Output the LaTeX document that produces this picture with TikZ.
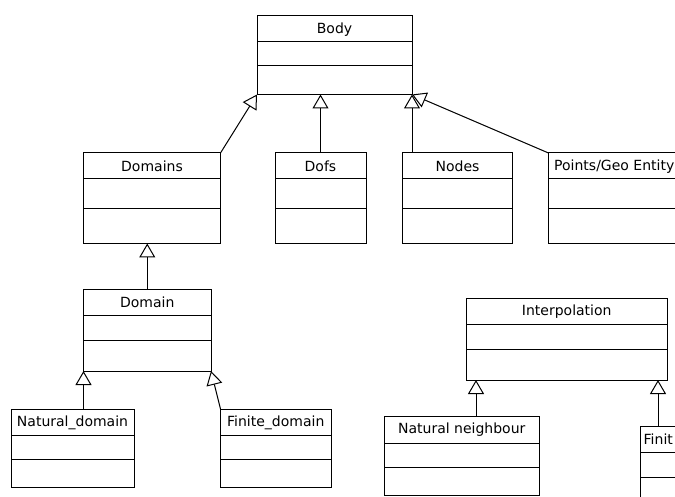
\documentclass[tikz,border=0pt]{standalone}
\usepackage{fontspec}
\setmainfont{DejaVu Sans}
\usetikzlibrary{arrows.meta,calc}
\tikzset{
  cls/.style={draw=black, line width=1pt, anchor=north west, inner sep=0pt, outer sep=0pt, fill=white},
  sep/.style={draw=black, line width=1pt},
  title/.style={inner sep=0pt, font=\fontsize{14}{16}\selectfont, text=black},
  inh/.style={draw=black, line width=1pt, -{Triangle[open, length=14pt, width=16pt, fill=white]}},
}
\newcommand\umlbox[8]{%
  \pgfmathsetmacro\bw{#4-#2}%
  \pgfmathsetmacro\bh{#5-#3}%
  \pgfmathsetmacro\tx{(#2+#4)/2}%
  \pgfmathsetmacro\ty{(#3+#6)/2+0.5}%
  \node[cls, minimum width=\bw pt, minimum height=\bh pt] (#1) at (#2,#3) {};
  \draw[sep] (#2,#6) -- (#4,#6);
  \draw[sep] (#2,#7) -- (#4,#7);
  \node[title] (#1-t) at (\tx,\ty) {#8};
}
\begin{document}
\begin{tikzpicture}[x=1pt,y=-1pt]
\useasboundingbox (0,0) rectangle (675,497);
\clip (0,0) rectangle (675,497);
\umlbox{body}{257}{15.5}{412}{94.5}{42}{66}{Body}
\umlbox{domains}{83.5}{153}{220.5}{243.5}{178.5}{208.5}{Domains}
\umlbox{dofs}{275}{153}{366}{243.5}{178.5}{208.5}{Dofs}
\umlbox{nodes}{402.5}{153}{512.5}{243.5}{178.5}{208.5}{Nodes}
\umlbox{points}{548.5}{153}{680}{243.5}{178.5}{208.5}{Points/Geo Entity}
\umlbox{domain}{83.5}{289.5}{211}{371}{315}{340}{Domain}
\umlbox{natdom}{11}{409}{134}{487.5}{435}{459}{Natural\_domain}
\umlbox{findom}{220.5}{409}{331}{487.5}{435}{459}{Finite\_domain}
\umlbox{interp}{466.5}{298.5}{667}{380}{324}{349.5}{Interpolation}
\umlbox{natnb}{384}{416}{539.5}{495}{443}{467}{Natural neighbour}
% clipped box at the right border
\node[cls, minimum width=60pt, minimum height=90pt] (finel) at (640,426) {};
\draw[sep] (finel.west |- 0,452) -- (700,452);
\draw[sep] (finel.west |- 0,477) -- (700,477);
\node[title, anchor=west] (finel-t) at (643.5,439.5) {Finit};
% generalisations
\draw[inh] (domains.north east) -- (body.south west);
\draw[inh] (dofs.north) -- (dofs.north |- body.south);
\draw[inh] (body.south east |- nodes.north) -- (body.south east);
\draw[inh] (points.north west) -- (body.south east);
\draw[inh] (domain.north) -- (domain.north |- domains.south);
\draw[inh] (domain.south west |- natdom.north) -- (domain.south west);
\draw[inh] (findom.north west) -- (domain.south east);
\draw[inh] ([xshift=9.5pt]interp.south west |- natnb.north) -- ([xshift=9.5pt]interp.south west);
\draw[inh] ([xshift=-9pt]interp.south east |- finel.north) -- ([xshift=-9pt]interp.south east);
\end{tikzpicture}
\end{document}
